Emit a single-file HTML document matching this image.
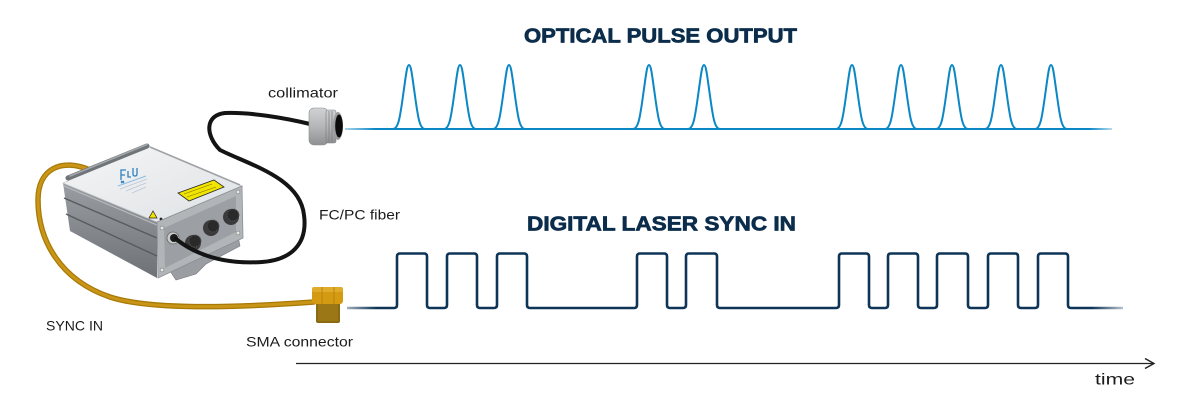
<!DOCTYPE html>
<html>
<head>
<meta charset="utf-8">
<style>
  html,body{margin:0;padding:0;background:#fff;}
  body{width:1182px;height:400px;overflow:hidden;}
  svg{display:block;}
  .lbl{font-family:"Liberation Sans",sans-serif;font-size:14px;fill:#1b1b1b;}
  .ttl{font-family:"Liberation Sans",sans-serif;font-weight:bold;font-size:20px;fill:#0b2d4b;stroke:#0b2d4b;stroke-width:0.7px;}
</style>
</head>
<body>
<svg width="1182" height="400" viewBox="0 0 1182 400" xmlns="http://www.w3.org/2000/svg">
  <defs>
    <linearGradient id="blueBase" gradientUnits="userSpaceOnUse" x1="345" y1="0" x2="1112" y2="0">
      <stop offset="0" stop-color="#0b87c6" stop-opacity="0.35"/>
      <stop offset="0.04" stop-color="#0b87c6" stop-opacity="1"/>
      <stop offset="0.97" stop-color="#0b87c6" stop-opacity="1"/>
      <stop offset="1" stop-color="#0b87c6" stop-opacity="0.3"/>
    </linearGradient>
    <linearGradient id="navyBase" gradientUnits="userSpaceOnUse" x1="345" y1="0" x2="1123" y2="0">
      <stop offset="0" stop-color="#0e3557" stop-opacity="0.35"/>
      <stop offset="0.04" stop-color="#0e3557" stop-opacity="1"/>
      <stop offset="0.96" stop-color="#0e3557" stop-opacity="1"/>
      <stop offset="1" stop-color="#0e3557" stop-opacity="0.3"/>
    </linearGradient>
    <linearGradient id="topFace" x1="0" y1="0" x2="1" y2="1">
      <stop offset="0" stop-color="#f4f5f6"/>
      <stop offset="1" stop-color="#dfe2e5"/>
    </linearGradient>
    <linearGradient id="sideFace" x1="0" y1="0" x2="0" y2="1">
      <stop offset="0" stop-color="#9a9ea2"/>
      <stop offset="1" stop-color="#6e7276"/>
    </linearGradient>
    <linearGradient id="colGrad" x1="0" y1="0" x2="0" y2="1">
      <stop offset="0" stop-color="#d0d2d4"/>
      <stop offset="0.5" stop-color="#b4b6b8"/>
      <stop offset="1" stop-color="#8e9092"/>
    </linearGradient>
    <path id="pk" d="M-16,129 C-10,129 -8.5,113.5 -5.2,90.2 C-3,74.7 -2,65 0,65 C2,65 3,74.7 5.2,90.2 C8.5,113.5 10,129 16,129" fill="none" stroke="#0b87c6" stroke-width="2"/>
  </defs>

  <!-- Titles -->
  <text class="ttl" x="524" y="42.3" textLength="273" lengthAdjust="spacingAndGlyphs">OPTICAL PULSE OUTPUT</text>
  <text class="ttl" x="527" y="230.7" textLength="269" lengthAdjust="spacingAndGlyphs">DIGITAL LASER SYNC IN</text>

  <!-- Optical pulses -->
  <line x1="345" y1="129" x2="1112" y2="129" stroke="url(#blueBase)" stroke-width="2"/>
  <use href="#pk" x="409"/>
  <use href="#pk" x="460"/>
  <use href="#pk" x="509"/>
  <use href="#pk" x="649"/>
  <use href="#pk" x="704"/>
  <use href="#pk" x="852"/>
  <use href="#pk" x="901"/>
  <use href="#pk" x="952"/>
  <use href="#pk" x="1001"/>
  <use href="#pk" x="1051"/>

  <!-- Digital sync -->
  <path fill="none" stroke="url(#navyBase)" stroke-width="2.6" stroke-linejoin="round" d="M347,308 H394 Q397,308 397,305 V256.5 Q397,253.5 400,253.5 H424 Q427,253.5 427,256.5 V305 Q427,308 430,308
  H444 Q447,308 447,305 V256.5 Q447,253.5 450,253.5 H474 Q477,253.5 477,256.5 V305 Q477,308 480,308
  H494 Q497,308 497,305 V256.5 Q497,253.5 500,253.5 H524 Q527,253.5 527,256.5 V305 Q527,308 530,308
  H634 Q637,308 637,305 V256.5 Q637,253.5 640,253.5 H664 Q667,253.5 667,256.5 V305 Q667,308 670,308
  H683 Q686,308 686,305 V256.5 Q686,253.5 689,253.5 H714 Q717,253.5 717,256.5 V305 Q717,308 720,308
  H836 Q839,308 839,305 V256.5 Q839,253.5 842,253.5 H866 Q869,253.5 869,256.5 V305 Q869,308 872,308
  H885 Q888,308 888,305 V256.5 Q888,253.5 891,253.5 H915 Q918,253.5 918,256.5 V305 Q918,308 921,308
  H934 Q937,308 937,305 V256.5 Q937,253.5 940,253.5 H965 Q968,253.5 968,256.5 V305 Q968,308 971,308
  H985 Q988,308 988,305 V256.5 Q988,253.5 991,253.5 H1015 Q1018,253.5 1018,256.5 V305 Q1018,308 1021,308
  H1035 Q1038,308 1038,305 V256.5 Q1038,253.5 1041,253.5 H1065 Q1068,253.5 1068,256.5 V305 Q1068,308 1071,308
  H1123"/>

  <!-- Time axis -->
  <line x1="296" y1="363.5" x2="1153" y2="363.5" stroke="#222" stroke-width="1.3"/>
  <polyline points="1145,358.5 1154,363.5 1145,368.5" fill="none" stroke="#222" stroke-width="1.4"/>
  <text class="lbl" x="1095" y="384.5" style="font-size:16px" textLength="40" lengthAdjust="spacingAndGlyphs">time</text>

  <!-- Labels -->
  <text class="lbl" x="268" y="97.5" textLength="70" lengthAdjust="spacingAndGlyphs">collimator</text>
  <text class="lbl" x="319" y="219.5" textLength="81" lengthAdjust="spacingAndGlyphs">FC/PC fiber</text>
  <text class="lbl" x="46" y="330.5" textLength="57" lengthAdjust="spacingAndGlyphs">SYNC IN</text>
  <text class="lbl" x="246" y="346.5" textLength="107" lengthAdjust="spacingAndGlyphs">SMA connector</text>

  <!-- Gold SYNC cable (behind device) -->
  <path d="M90,170 C62,158 38,168 38,200 C38,240 60,280 110,297 C150,310 230,308 314,302" fill="none" stroke="#a87908" stroke-width="5.5" stroke-linecap="round"/>
  <path d="M90,170 C62,158 38,168 38,200 C38,240 60,280 110,297 C150,310 230,308 314,302" fill="none" stroke="#c99516" stroke-width="3" stroke-linecap="round"/>

  <!-- SMA connector -->
  <rect x="316" y="298" width="24" height="25" rx="2" fill="#8a6a12"/>
  <rect x="318" y="300" width="20" height="21" fill="#9c7716"/>
  <rect x="312" y="287" width="31" height="17" rx="3" fill="#d39a12"/>
  <rect x="312" y="287" width="31" height="5" rx="2" fill="#e0ab2a"/>
  <line x1="322" y1="287" x2="322" y2="304" stroke="#b88410" stroke-width="1"/>
  <line x1="334" y1="287" x2="334" y2="304" stroke="#b88410" stroke-width="1"/>

  <!-- Device -->
  <!-- left long face -->
  <polygon points="63,183 157,222 157,278 70,231" fill="url(#sideFace)"/>
  <line x1="64" y1="198" x2="157" y2="238" stroke="#565b60" stroke-width="1.4"/>
  <line x1="66" y1="214" x2="157" y2="256" stroke="#565b60" stroke-width="1.4"/>
  <line x1="64" y1="186" x2="157" y2="225" stroke="#b9bcc0" stroke-width="1"/>
  <!-- top face -->
  <polygon points="63,183 148,146 242,186 157,222" fill="url(#topFace)" stroke="#c8cbce" stroke-width="0.8"/>
  <!-- back rail -->
  <line x1="68" y1="178" x2="147" y2="146" stroke="#6f7478" stroke-width="5" stroke-linecap="round"/>
  <line x1="70" y1="176" x2="147" y2="144.5" stroke="#a4a8ac" stroke-width="1.5" stroke-linecap="round"/>
  <line x1="150" y1="147" x2="240" y2="185" stroke="#9ea2a6" stroke-width="1.6"/>
  <!-- logo -->
  <g stroke="#2f7fc0" stroke-width="1.3" fill="none">
    <path d="M121,180 V170 H126 M121,175 H125"/>
    <path d="M128,171 V177 H131"/>
    <path d="M133,168 V174 Q133,176 135,176 Q137,176 137,174 V168"/>
    <path d="M121,183 L124,181 M124,183 L121,181"/>
  </g>
  <line x1="118" y1="186" x2="146" y2="176" stroke="#8fbde0" stroke-width="1"/>
  <line x1="120" y1="189" x2="147" y2="179" stroke="#b8c8d8" stroke-width="0.8"/>
  <line x1="126" y1="191" x2="146" y2="183" stroke="#b8c8d8" stroke-width="0.8"/>
  <line x1="132" y1="193" x2="146" y2="187" stroke="#b8c8d8" stroke-width="0.8"/>
  <!-- yellow label -->
  <polygon points="178,193 214,180 224,187 189,201" fill="#f1e400" stroke="#2b2b2b" stroke-width="0.8"/>
  <line x1="184" y1="194" x2="212" y2="184" stroke="#6a6400" stroke-width="0.5"/>
  <line x1="187" y1="197" x2="216" y2="187" stroke="#6a6400" stroke-width="0.5"/>
  <!-- warning triangle -->
  <polygon points="149,218 153,211 157,218" fill="#f1e400" stroke="#222" stroke-width="0.7"/>
  <circle cx="161" cy="219" r="1.4" fill="#222"/>
  <!-- flange -->
  <polygon points="168,268 238,236 240,246 206,264 196,274 176,280" fill="#9a9ea2" stroke="#74787c" stroke-width="0.6"/>
  <!-- front face -->
  <polygon points="157,222 242,186 243,238 158,278" fill="#b2b5b8" stroke="#8a8e92" stroke-width="0.8"/>
  <polygon points="164,228 236,196 236,232 165,268" fill="#9ca0a4"/>
  <circle cx="162" cy="228" r="2" fill="#e8e8e8" stroke="#666" stroke-width="0.5"/>
  <circle cx="238" cy="192" r="2" fill="#e8e8e8" stroke="#666" stroke-width="0.5"/>
  <circle cx="162" cy="270" r="2" fill="#e8e8e8" stroke="#666" stroke-width="0.5"/>
  <circle cx="238" cy="233" r="2" fill="#e8e8e8" stroke="#666" stroke-width="0.5"/>
  <!-- connectors -->
  <circle cx="231" cy="217" r="8" fill="#3a3a3a"/>
  <circle cx="233" cy="215" r="6" fill="#2a2a2a" stroke="#555" stroke-width="1" stroke-dasharray="1.2 1.2"/>
  <circle cx="211" cy="228" r="8" fill="#3a3a3a"/>
  <circle cx="213" cy="226" r="6" fill="#2a2a2a" stroke="#555" stroke-width="1" stroke-dasharray="1.2 1.2"/>
  <circle cx="193" cy="243" r="8" fill="#3a3a3a"/>
  <circle cx="195" cy="241" r="6" fill="#2a2a2a" stroke="#555" stroke-width="1" stroke-dasharray="1.2 1.2"/>
  <circle cx="173" cy="238" r="6" fill="#c8cacc" stroke="#666" stroke-width="0.8"/>
  <circle cx="174" cy="238" r="4" fill="#1b1b1b"/>

  <!-- Black FC/PC fiber -->
  <path d="M310,124 C285,118 250,112 225,113 C205,115 205,135 220,150 C250,165 300,178 304,215 C308,245 290,260 262,262 C230,264 200,258 176,239" fill="none" stroke="#141414" stroke-width="4" stroke-linecap="round"/>

  <!-- Collimator -->
  <rect x="309" y="108" width="19" height="37" rx="5" fill="url(#colGrad)" stroke="#8a8c8e" stroke-width="0.6"/>
  <rect x="326" y="110" width="10" height="33" rx="2" fill="url(#colGrad)" stroke="#7a7c7e" stroke-width="0.6"/>
  <line x1="329" y1="111" x2="329" y2="142" stroke="#7e8082" stroke-width="0.8"/>
  <line x1="332" y1="111" x2="332" y2="142" stroke="#7e8082" stroke-width="0.8"/>
  <ellipse cx="338" cy="126" rx="5" ry="14" fill="#9a9c9e"/>
  <ellipse cx="339" cy="126" rx="3.8" ry="11.5" fill="#0c0c0c"/>
</svg>
</body>
</html>
